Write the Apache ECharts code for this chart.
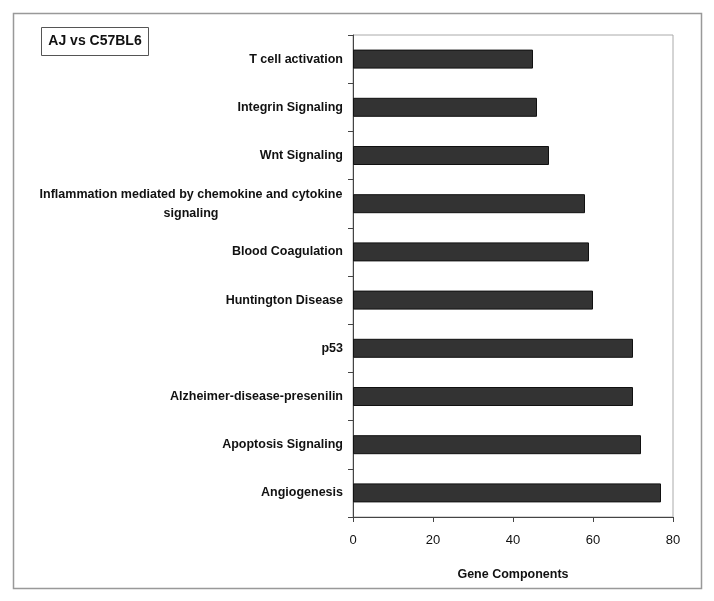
<!DOCTYPE html>
<html>
<head>
<meta charset="utf-8">
<script src="https://cdn.jsdelivr.net/npm/echarts@6/dist/echarts.min.js"></script>
<style>html,body{margin:0;padding:0;background:#fff;}#c{width:714px;height:601px;}</style>
</head>
<body>
<div id="c"></div>
<script>
const categories = ["Angiogenesis","Apoptosis Signaling","Alzheimer-disease-presenilin","p53","Huntington Disease","Blood Coagulation","Inflammation mediated by chemokine and cytokine\nsignaling","Wnt Signaling","Integrin Signaling","T cell activation"];
const values = [77,72,70,70,60,59,58,49,46,45];
const xTicks = [0,20,40,60,80];
const titleText = "AJ vs C57BL6";
const xName = "Gene Components";

const FONT = "'Liberation Sans', Arial, sans-serif";
const chart = echarts.init(document.getElementById('c'), null, {renderer:'canvas'});
chart.setOption({
  animation:false,
  backgroundColor:'#fff',
  graphic:[
    {type:'rect', shape:{x:13.5,y:13.5,width:688,height:575}, style:{fill:'none', stroke:'#999', lineWidth:1.5}, z:-1},
    {type:'rect', shape:{x:41.5,y:27.5,width:107,height:28}, style:{fill:'#fff', stroke:'#555', lineWidth:1}},
    {type:'text', x:95, y:41.5, style:{text:titleText, font:"bold 14px "+FONT, fill:'#111', align:'center', verticalAlign:'middle'}}
  ],
  grid:{left:353, top:35, right:41, bottom:84, show:true, borderColor:'#aaa', borderWidth:1, containLabel:false},
  xAxis:{
    type:'value', min:0, max:80, interval:20,
    axisLine:{show:true, lineStyle:{color:'#444'}},
    axisTick:{show:true, length:5, lineStyle:{color:'#444'}},
    splitLine:{show:false},
    axisLabel:{color:'#111', fontSize:13, fontFamily:FONT, margin:17, formatter:v=>xTicks.includes(v)?String(v):''},
    name:xName, nameLocation:'middle', nameGap:51,
    nameTextStyle:{color:'#111', fontSize:12.5, fontWeight:'bold', fontFamily:FONT}
  },
  yAxis:{
    type:'category', data:categories,
    axisLine:{show:true, lineStyle:{color:'#444'}},
    axisTick:{show:true, length:5, lineStyle:{color:'#444'}},
    axisLabel:{
      color:'#111', fontSize:12.5, fontWeight:'bold', fontFamily:FONT, margin:10,
      formatter:function(v){
        if(v.indexOf('\n')>=0){ return v.split('\n').map(s=>'{w|'+s+'}').join('\n'); }
        return v;
      },
      rich:{w:{width:304, align:'center', fontSize:12.5, fontWeight:'bold', fontFamily:FONT, color:'#111', lineHeight:19}}
    }
  },
  series:[{
    type:'bar', data:values, barWidth:19,
    itemStyle:{color:'#333', borderColor:'#111', borderWidth:1}
  }]
});
</script>
</body>
</html>
